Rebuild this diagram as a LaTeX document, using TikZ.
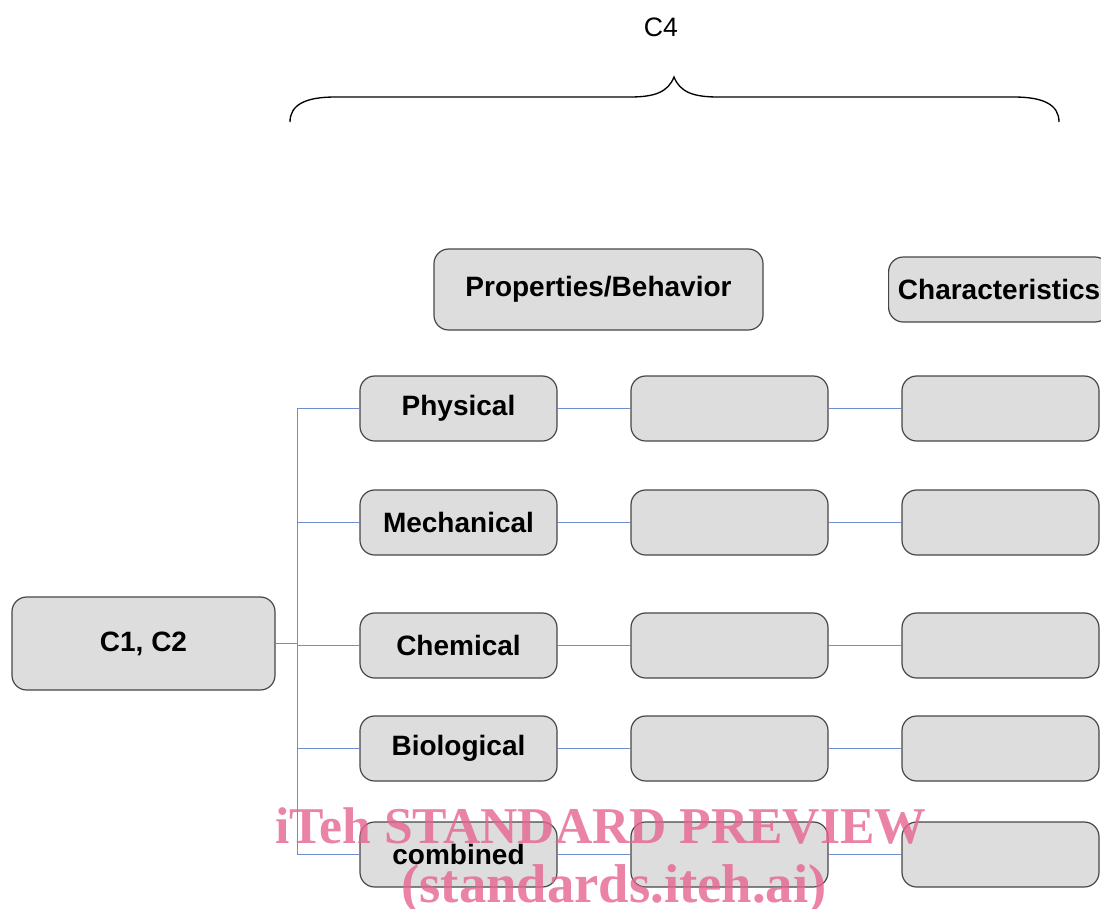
\documentclass[tikz,border=0pt]{standalone}
\usepackage{fontspec}
\setmainfont{Liberation Sans}
\newfontfamily\wmfont{Liberation Serif}
\definecolor{boxfill}{RGB}{221,221,221}
\definecolor{boxline}{RGB}{70,70,70}
\definecolor{linkblue}{RGB}{110,140,210}
\definecolor{wmpink}{RGB}{230,100,145}
\begin{document}
\begin{tikzpicture}[x=0.75pt,y=-0.75pt,
  box/.style={draw=boxline,line width=0.9pt,fill=boxfill,rounded corners=11pt,inner sep=0pt,
    font=\fontsize{21}{25}\selectfont\bfseries},
  rowbox/.style={box,minimum width=147.75pt,minimum height=48.75pt},
  link/.style={draw=linkblue,line width=1pt},
  wm/.style={text=wmpink,opacity=0.8,font=\wmfont\bfseries,inner sep=0pt,anchor=base}]
\useasboundingbox (0,0) rectangle (1101,908);
% top label and brace
\node[font=\fontsize{20}{24}\selectfont] (c4) at (661,27) {C4};
\draw[line width=1pt] (290,122) .. controls (290,105) and (305,97) .. (335,97)
  -- (630,97) .. controls (655,97) and (668,92) .. (674,77)
  .. controls (680,92) and (693,97) .. (718,97)
  -- (1014,97) .. controls (1044,97) and (1059,105) .. (1059,122);
% header boxes
\node[box,minimum width=246.75pt,minimum height=60.75pt] (pb) at (598.5,289.5) {Properties/Behavior};
\node[box,minimum width=161.25pt,minimum height=48.75pt,anchor=west,inner xsep=7pt] (ch) at (888,289.5) {Characteristics\hspace{6pt}};
% root
\node[box,minimum width=197.25pt,minimum height=69.75pt] (root) at (143.5,643.5) {C1, C2};
% rows
\foreach \n/\y/\t in {phy/408.5/Physical, mec/522.5/Mechanical, che/645.5/Chemical, bio/748.5/Biological, com/854.5/combined}{
  \node[rowbox] (\n1) at (458.5,\y) {\t};
  \node[rowbox] (\n2) at (729.5,\y) {};
  \node[rowbox] (\n3) at (1000.5,\y) {};
}
% connectors
\foreach \n in {phy,mec,che,bio,com}{
  \path[link] (root.east) -- ++(22,0) |- (\n1.west);
  \path[link] (\n1.east) -- (\n2.west);
  \path[link] (\n2.east) -- (\n3.west);
}
% watermark
\node[wm] (wm1) at (601,843) {\fontsize{38.7}{40}\selectfont iTeh STANDARD PREVIEW};
\node[wm] (wm2) at (614,902) {\fontsize{41}{43}\selectfont (standards.iteh.ai)};
\end{tikzpicture}
\end{document}
